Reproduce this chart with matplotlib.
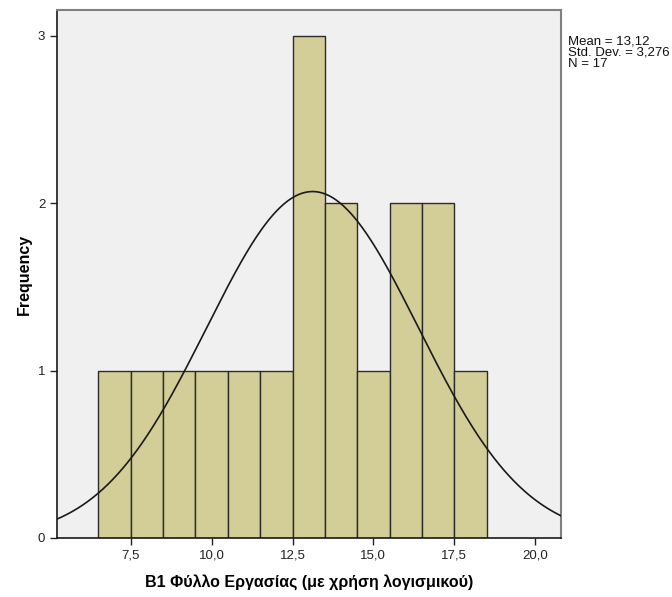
import matplotlib
matplotlib.use("Agg")
import matplotlib.pyplot as plt
from matplotlib.ticker import FuncFormatter
import numpy as np

plt.rcParams['font.family'] = ['Liberation Sans', 'DejaVu Sans']

# histogram bins (centers) and counts
bin_centers = [7, 8, 9, 10, 11, 12, 13, 14, 15, 16, 17, 18]
counts = [1, 1, 1, 1, 1, 1, 3, 2, 1, 2, 2, 1]
bin_width = 1.0
mean_val = 13.12
std_val = 3.276
n_val = 17
x_ticks = [7.5, 10.0, 12.5, 15.0, 17.5, 20.0]
y_ticks = [0, 1, 2, 3]

fig = plt.figure(figsize=(6.72, 5.97), dpi=100)
ax = fig.add_axes([57/672, 1 - 538/597, (561 - 57)/672, (538 - 10)/597])
ax.set_facecolor('#F0F0F0')

ax.bar(bin_centers, counts, width=bin_width, color='#D3CE97',
       edgecolor='#2b2b2b', linewidth=1.0, zorder=2)

# normal curve scaled to counts
xs = np.linspace(5.22, 20.8, 400)
ys = n_val * bin_width / (std_val * np.sqrt(2 * np.pi)) * np.exp(-0.5 * ((xs - mean_val) / std_val) ** 2)
ax.plot(xs, ys, color='#1a1a1a', linewidth=1.2, zorder=3)

ax.set_xlim(5.22, 20.8)
ax.set_ylim(0, 3.155)
ax.set_xticks(x_ticks)
ax.set_yticks(y_ticks)
ax.xaxis.set_major_formatter(FuncFormatter(lambda v, p: f"{v:.1f}".replace('.', ',')))
ax.yaxis.set_major_formatter(FuncFormatter(lambda v, p: f"{int(v)}"))
ax.tick_params(direction='out', length=5, width=1, labelsize=9.5, colors='#222222')

for side in ['left', 'bottom']:
    ax.spines[side].set_color('#1a1a1a')
    ax.spines[side].set_linewidth(1.2)
for side in ['top', 'right']:
    ax.spines[side].set_color('#808080')
    ax.spines[side].set_linewidth(1.5)

ax.set_xlabel('Β1 Φύλλο Εργασίας (με χρήση λογισμικού)', fontsize=11.5,
              fontweight='bold', labelpad=9)
ax.set_ylabel('Frequency', fontsize=11.5, fontweight='bold', labelpad=4)

fig.text(568/672, 1 - 35/597, 'Mean = 13,12\nStd. Dev. = 3,276\nN = 17',
         fontsize=9.5, va='top', ha='left', linespacing=0.95, color='#111111')

fig.savefig('out.png', dpi=100)
